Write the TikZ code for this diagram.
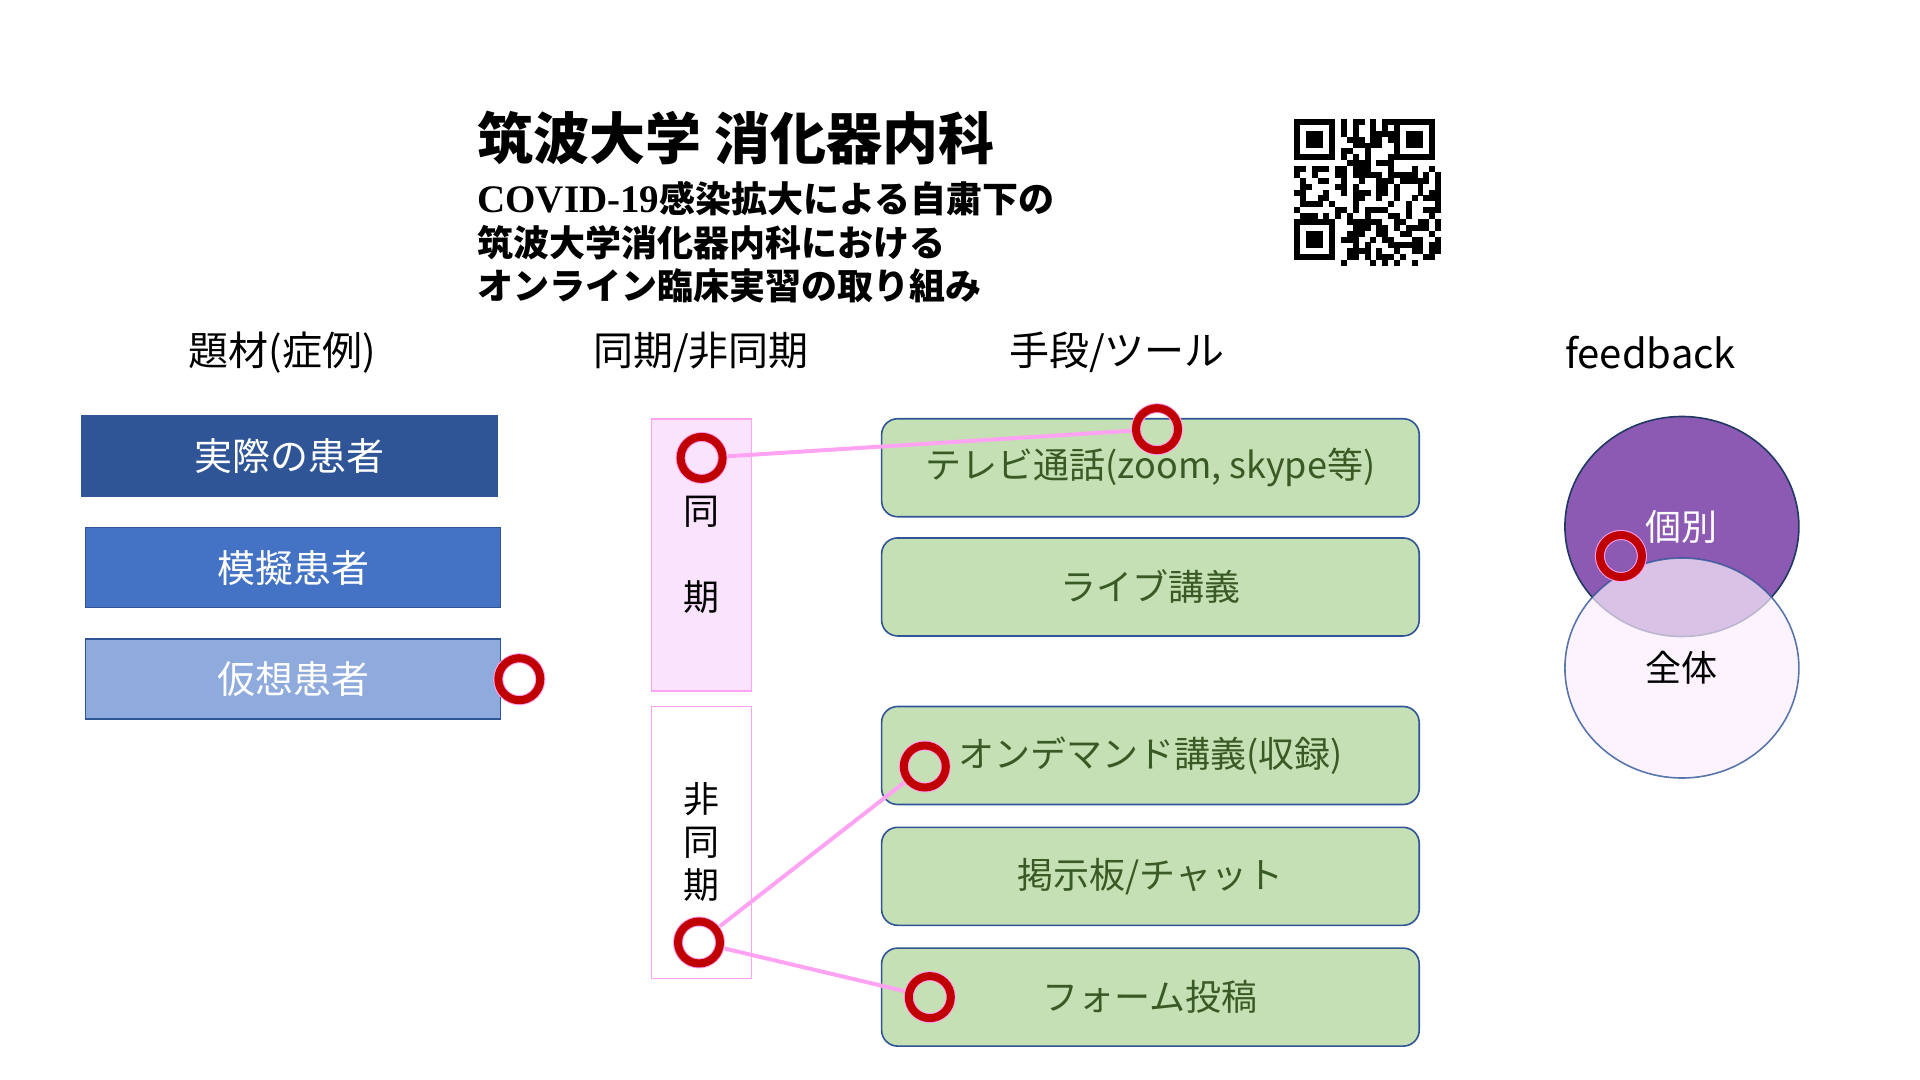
\documentclass[tikz,border=0pt]{standalone}
\usepackage{fontspec}
\setmainfont{Noto Sans CJK JP}
\newfontfamily\latinserif{Liberation Serif}
\usetikzlibrary{positioning,shapes.geometric}

\definecolor{navy}{HTML}{2F5597}
\definecolor{darknavy}{HTML}{1F3864}
\definecolor{blueA}{HTML}{4472C4}
\definecolor{blueB}{HTML}{8FAADC}
\definecolor{pinkfill}{HTML}{FAE3FD}
\definecolor{pinkline}{HTML}{FFA3F2}
\definecolor{greenfill}{HTML}{C5E0B4}
\definecolor{greentext}{HTML}{3A5A25}
\definecolor{mark}{HTML}{C00000}
\definecolor{violet}{HTML}{8C5AB2}
\definecolor{lilac}{HTML}{FCEEFD}

\tikzset{
  patient/.style={draw=navy, line width=0.8pt, minimum width=207.5pt, minimum height=40pt, inner sep=0pt, text=white, font=\fontsize{19}{23}\selectfont},
  tool/.style={draw=navy, fill=greenfill, rounded corners=8pt, line width=0.8pt, minimum width=268.8pt, minimum height=49pt, inner sep=0pt, text=greentext, font=\fontsize{18}{22}\selectfont},
  mode/.style={draw=pinkline, line width=0.8pt, minimum width=50pt, minimum height=136pt, inner sep=0pt, align=center, font=\fontsize{18}{21.5}\selectfont},
  ring/.style={circle, draw=pinkline, double=mark, double distance=4pt, line width=0.5pt, minimum size=21pt, inner sep=0pt},
  link/.style={pinkline, line width=2pt, shorten <=2.5pt, shorten >=2.5pt},
  head/.style={font=\fontsize{20}{24}\selectfont},
}

\begin{document}
\begin{tikzpicture}[x=0.5pt, y=-0.5pt]
\useasboundingbox (0,0) rectangle (1920,1080);

% title
\node[anchor=west, inner sep=0pt, font=\bfseries\fontsize{28}{34}\selectfont] (title) at (477,138) {筑波大学 消化器内科};
\node[anchor=west, inner sep=0pt, align=left, font=\bfseries\fontsize{18}{21.7}\selectfont] (sub) at (477,242.5)
  {{\latinserif\bfseries\fontsize{19.5}{21.7}\selectfont COVID-19}感染拡大による自粛下の\\筑波大学消化器内科における\\オンライン臨床実習の取り組み};

% qr code
\pgfmathsetseed{20}
\foreach \i in {0,...,24}{
  \foreach \j in {0,...,24}{
    \pgfmathtruncatemacro\qbit{rnd<0.5 ? 1 : 0}
    \pgfmathtruncatemacro\infinder{((\i<8)&&(\j<8)) || ((\i>16)&&(\j<8)) || ((\i<8)&&(\j>16)) ? 1 : 0}
    \ifnum\infinder=0 \ifnum\qbit=1
      \fill (1294+\i*5.88,119+\j*5.88) rectangle ++(5.95,5.95);
    \fi\fi
  }
}
\foreach \cx/\cy in {1294/119, 1393.96/119, 1294/218.96}{
  \fill (\cx,\cy) rectangle ++(41.16,41.16);
  \fill[white] (\cx+5.88,\cy+5.88) rectangle ++(29.4,29.4);
  \fill (\cx+11.76,\cy+11.76) rectangle ++(17.64,17.64);
}

% headers
\node[head] (h1) at (282,352.7) {題材(症例)};
\node[head] (h2) at (701,352.7) {同期/非同期};
\node[head] (h3) at (1117,352.7) {手段/ツール};
\node[head] (h4) at (1650.6,352.7) {feedback};

% patients
\node[patient, fill=navy] (p1) at (289.5,456) {実際の患者};
\node[patient, fill=blueA, below=15pt of p1, xshift=1.75pt] (p2) {模擬患者};
\node[patient, fill=blueB, below=15pt of p2] (p3) {仮想患者};

% sync / async
\node[mode, fill=pinkfill] (s1) at (701.6,554.7) {同\\[21.35pt]期};
\node[mode, fill=white] (s2) at (701.6,842.45) {非\\同\\期};

% tools
\node[tool] (t1) at (1150.4,467.75) {テレビ通話(zoom, skype等)};
\node[tool, below=9.8pt of t1] (t2) {ライブ講義};
\node[tool] (t3) at (1150.4,755.5) {オンデマンド講義(収録)};
\node[tool, below=10.6pt of t3] (t4) {掲示板/チャット};
\node[tool, below=10.6pt of t4] (t5) {フォーム投稿};

% feedback
\node[ellipse, draw=darknavy, fill=violet, line width=0.8pt, minimum width=117pt, minimum height=110pt, inner sep=0pt, text=white, font=\fontsize{18}{22}\selectfont] (f1) at (1681.9,526.5) {個別};
\node[ellipse, draw=navy, fill=lilac, fill opacity=0.7, draw opacity=0.8, text opacity=1, line width=0.8pt, minimum width=117pt, minimum height=110pt, inner sep=0pt, font=\fontsize{18}{22}\selectfont] (f2) at (1681.9,668) {全体};

% marks
\node[ring] (c1) at ([xshift=9pt]p3.east) {};
\node[ring] (c2) at ([yshift=-20pt]s1.north) {};
\node[ring] (c3) at ([xshift=3.3pt, yshift=-5.6pt]t1.north) {};
\node[ring] (c4) at ([xshift=-1.3pt, yshift=18.4pt]s2.south) {};
\node[ring] (c5) at ([xshift=22pt, yshift=-5.5pt]t3.west) {};
\node[ring] (c6) at ([xshift=24.5pt]t5.west) {};
\node[ring] (c7) at ([xshift=-30.5pt, yshift=-14.75pt]f1.center) {};

\draw[link] (c2) -- (c3);
\draw[link] (c4) -- (c5);
\draw[link] (c4) -- (c6);
\end{tikzpicture}
\end{document}
